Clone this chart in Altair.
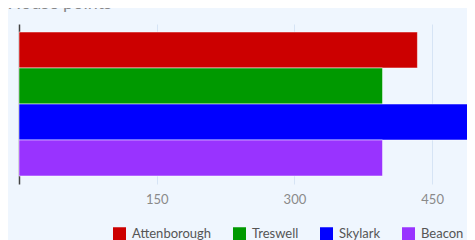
import altair as alt
import pandas as pd

houses = ["Attenborough", "Treswell", "Skylark", "Beacon"]
points = [434, 396, 495, 396]
colors = ["#cc0000", "#009900", "#0000ff", "#9933ff"]
tick_values = [150, 300, 450]

df = pd.DataFrame({"house": houses, "points": points})

chart = alt.Chart(df).mark_bar(
    stroke="white", strokeOpacity=0.5, strokeWidth=1
).encode(
    x=alt.X("points:Q",
            scale=alt.Scale(domain=[0, 488], nice=False, zero=True),
            axis=alt.Axis(values=tick_values, title=None, domain=False, ticks=False,
                          labelPadding=9, labelFont="Lato", labelFontSize=13,
                          labelColor="#8a8a8a", grid=True, gridColor="#d6e4f5")),
    y=alt.Y("house:N", sort=houses,
            scale=alt.Scale(paddingInner=0, paddingOuter=0.222),
            axis=alt.Axis(labels=False, ticks=False, title=None, grid=False,
                          domainColor="#444444", domainWidth=1.5)),
    color=alt.Color("house:N", sort=houses,
                    scale=alt.Scale(domain=houses, range=colors),
                    legend=alt.Legend(title=None, orient="none", direction="horizontal",
                                      legendX=94, legendY=203, symbolType="square",
                                      symbolSize=169, symbolStrokeWidth=0,
                                      labelFont="Lato", labelFontSize=13, labelColor="#555555",
                                      columnPadding=21, labelOffset=6, padding=0)),
).properties(
    width=448, height=160,
    padding={"left": 11, "top": 16, "right": 0, "bottom": 56},
    autosize=alt.AutoSizeParams(type="none"),
    background="#eff6fe",
    title=alt.TitleParams("House points", anchor="start", dx=-11, offset=11,
                          fontSize=18, font="Lato",
                          color="#888888", fontWeight="normal"),
).configure_view(stroke=None)

chart.save("out.html", embed_options={"renderer": "svg", "actions": False})
